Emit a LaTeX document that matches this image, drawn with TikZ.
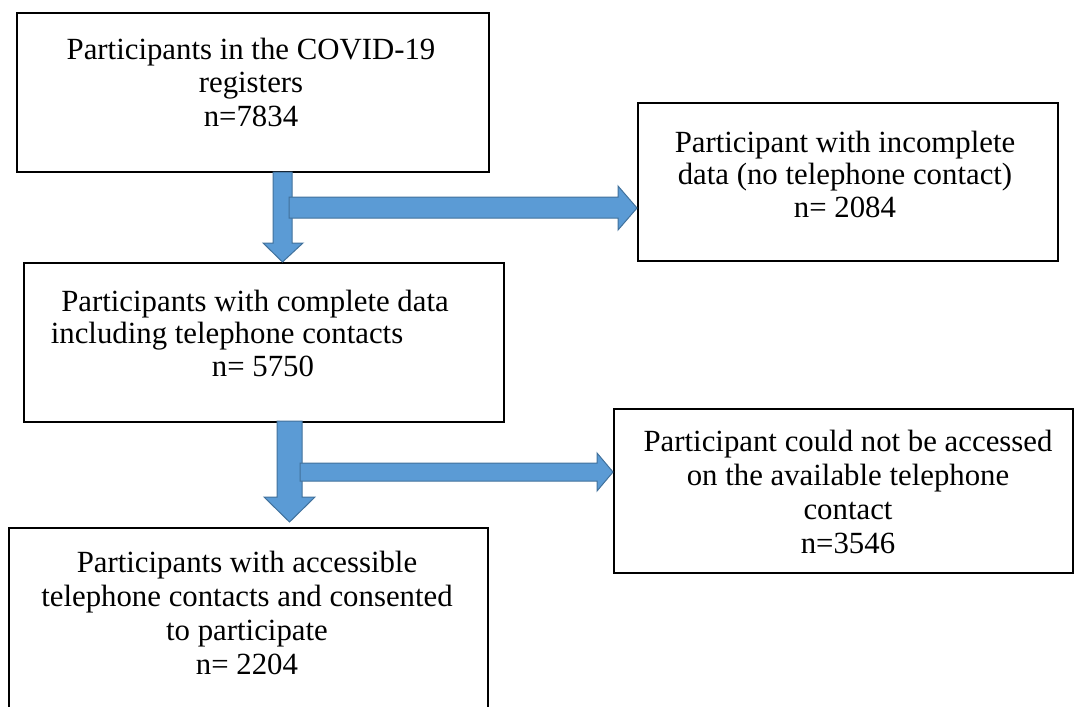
\documentclass[tikz,border=0pt]{standalone}
\usepackage{fontspec}
\setmainfont{Liberation Serif}
\definecolor{arrowfill}{HTML}{5B9BD5}
\definecolor{arrowedge}{HTML}{41719C}
\begin{document}
\begin{tikzpicture}[x=1pt,y=-1pt,
  box/.style={draw=black, line width=1.6pt, inner sep=0pt, anchor=north west},
  txt/.style={inner sep=0pt, anchor=base},
  barrow/.style={fill=arrowfill, draw=arrowedge, line width=1pt, line join=miter}]
\useasboundingbox (0,0) rectangle (1074,707);
\newcommand\boxfont[1]{\fontsize{30.8}{#1}\selectfont\setlength{\tabcolsep}{0pt}\renewcommand{\arraystretch}{1}}
% boxes
\node[box, minimum width=472pt, minimum height=159pt] (b1) at (16,12) {};
\node[box, minimum width=420pt, minimum height=158pt] (b2) at (637,102) {};
\node[box, minimum width=480pt, minimum height=159pt] (b3) at (23,262) {};
\node[box, minimum width=459pt, minimum height=164pt] (b4) at (613,408) {};
\node[box, minimum width=479pt, minimum height=200pt] (b5) at (8,527) {};
% texts
\node[txt] (t1) at (251,59) {\boxfont{33.5}\begin{tabular}[t]{c}Participants in the COVID-19\\ registers\\ n=7834\end{tabular}};
\node[txt] (t2) at (845,152) {\boxfont{32.8}\begin{tabular}[t]{c}Participant with incomplete\\ data (no telephone contact)\\ n= 2084\end{tabular}};
\node[txt] (t3) at (263,311) {\boxfont{32.8}\begin{tabular}[t]{c}Participants with complete data\hspace*{16pt}\\ including telephone contacts\hspace*{72pt}\\ n= 5750\end{tabular}};
\node[txt] (t4) at (848,451) {\boxfont{34.3}\begin{tabular}[t]{c}Participant could not be accessed\\ on the available telephone\\ contact\\ n=3546\end{tabular}};
\node[txt] (t5) at (247,572) {\boxfont{34.3}\begin{tabular}[t]{c}Participants with accessible\\ telephone contacts and consented\\ to participate\\ n= 2204\end{tabular}};
% block arrows
\draw[barrow] (273,172) -- (292,172) -- (292,243) -- (303,243) -- (282.5,262) -- (263,243) -- (273,243) -- cycle;
\draw[barrow] (289,197) -- (618,197) -- (618,186) -- (b2.west |- 0,208) -- (618,230) -- (618,218) -- (289,218) -- cycle;
\draw[barrow] (277,421) -- (302,421) -- (302,497) -- (315,497) -- (289.5,522) -- (264,497) -- (277,497) -- cycle;
\draw[barrow] (300,463) -- (597,463) -- (597,453) -- (b4.west |- 0,472) -- (597,491) -- (597,481) -- (300,481) -- cycle;
\end{tikzpicture}
\end{document}
